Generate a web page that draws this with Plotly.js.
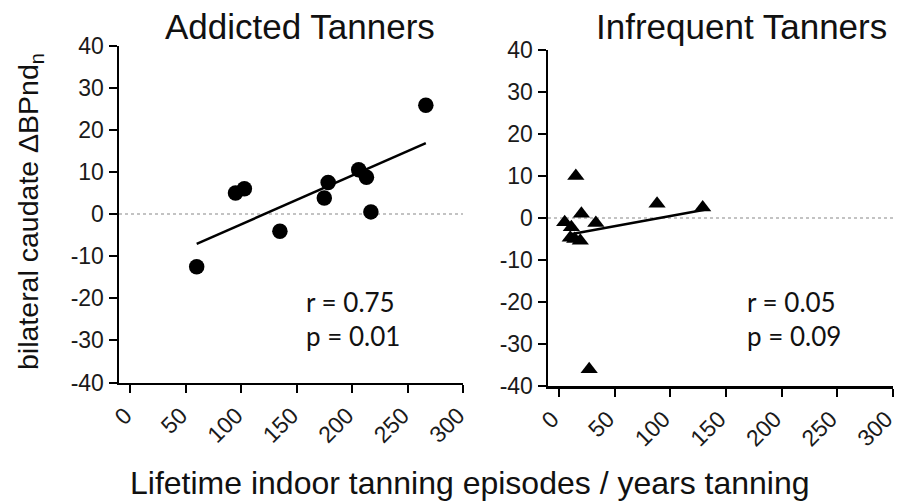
<!DOCTYPE html>
<html>
<head>
<meta charset="utf-8">
<script src="https://cdn.plot.ly/plotly-3.0.1.min.js"></script>
<style>html,body{margin:0;padding:0;background:#fff;}#chart{width:898px;height:502px;}</style>
</head>
<body>
<div id="chart"></div>
<script>
// Addicted tanners (circles)
const addictedX = [60, 95, 103, 135, 175, 178.5, 206, 213, 217, 266.5];
const addictedY = [-12.5, 5.0, 6.0, -4.1, 3.8, 7.5, 10.5, 8.7, 0.5, 25.8];
const addictedFitX = [60, 266.5];
const addictedFitY = [-7.1, 16.8];

// Infrequent tanners (triangles)
const infrequentX = [15, 20, 5, 33, 11, 10, 14, 19, 88, 129, 27];
const infrequentY = [10, 1, -1, -1.2, -2.2, -4.7, -5.0, -5.4, 3.4, 2.5, -36];
const infrequentFitX = [11.5, 132];
const infrequentFitY = [-3.8, 2.0];

const xTicks = [0, 50, 100, 150, 200, 250, 300];
const yTicks = [-40, -30, -20, -10, 0, 10, 20, 30, 40];

const panelTitles = ["Addicted Tanners", "Infrequent Tanners"];
const statsText = [["r = 0.75", "p = 0.01"], ["r = 0.05", "p = 0.09"]];
const xTitle = "Lifetime indoor tanning episodes / years tanning";
const yTitle = "bilateral caudate \u0394BPnd<sub>n</sub>";

const W = 898, H = 502;
const px = v => v / W;
const py = v => (H - v) / H;

const SANS = 'Liberation Sans, Arial, sans-serif';
const STAT = 'Lato, sans-serif';

const traces = [
  {x: addictedX, y: addictedY, type: 'scatter', mode: 'markers', xaxis: 'x', yaxis: 'y',
   marker: {symbol: 'circle', size: 15.5, color: '#000'}},
  {x: addictedFitX, y: addictedFitY, type: 'scatter', mode: 'lines', xaxis: 'x', yaxis: 'y',
   line: {color: '#000', width: 2.5}},
  {x: infrequentX, y: infrequentY, type: 'scatter', mode: 'markers', xaxis: 'x2', yaxis: 'y2',
   marker: {symbol: 'triangle-up', size: 15, color: '#000'}},
  {x: infrequentFitX, y: infrequentFitY, type: 'scatter', mode: 'lines', xaxis: 'x2', yaxis: 'y2',
   line: {color: '#000', width: 2.5}}
];

const tickFont = {family: SANS, size: 23, color: '#1a1a1a'};

const xaxisBase = {
  range: [-10, 300], tickvals: xTicks, ticktext: xTicks.map(String), tickangle: -45,
  showgrid: false, zeroline: false, showline: true, linecolor: '#000', linewidth: 2.5,
  ticks: 'outside', ticklen: 8, tickwidth: 2, tickcolor: '#000', tickfont: tickFont,
  ticklabeloverflow: 'allow', ticklabelshift: -5, fixedrange: true
};
const yaxisBase = {
  range: [-40, 40], tickvals: yTicks, ticktext: yTicks.map(String),
  showgrid: false, zeroline: false, showline: true, linecolor: '#000', linewidth: 2.5,
  ticks: 'outside', ticklen: 8, tickwidth: 2, tickcolor: '#000', tickfont: tickFont,
  ticklabeloverflow: 'allow', fixedrange: true
};

const statFont = {family: STAT, size: 26, color: '#111'};

const layout = {
  width: W, height: H,
  margin: {l: 0, r: 0, t: 0, b: 0},
  paper_bgcolor: '#fff', plot_bgcolor: '#fff',
  showlegend: false,
  font: {family: SANS},
  xaxis: Object.assign({}, xaxisBase, {domain: [px(119), px(463)], anchor: 'y'}),
  yaxis: Object.assign({}, yaxisBase, {domain: [py(382.5), py(45.5)], anchor: 'x'}),
  xaxis2: Object.assign({}, xaxisBase, {domain: [px(548), px(893)], anchor: 'y2', ticklabelshift: -7}),
  yaxis2: Object.assign({}, yaxisBase, {domain: [py(386), py(50)], anchor: 'x2'}),
  shapes: [
    {type: 'line', xref: 'x domain', yref: 'y', x0: 0, x1: 1, y0: 0, y1: 0,
     line: {color: '#888', width: 1.2, dash: 'dot'}, layer: 'below'},
    {type: 'line', xref: 'x2 domain', yref: 'y2', x0: 0, x1: 1, y0: 0, y1: 0,
     line: {color: '#888', width: 1.2, dash: 'dot'}, layer: 'below'}
  ],
  annotations: [
    {text: panelTitles[0], xref: 'paper', yref: 'paper', x: px(300), y: py(27), showarrow: false,
     xanchor: 'center', yanchor: 'middle', font: {family: SANS, size: 35, color: '#111'}},
    {text: panelTitles[1], xref: 'paper', yref: 'paper', x: px(741.5), y: py(27), showarrow: false,
     xanchor: 'center', yanchor: 'middle', font: {family: SANS, size: 35, color: '#111'}},
    {text: statsText[0][0], xref: 'paper', yref: 'paper', x: px(304), y: py(302), showarrow: false,
     xanchor: 'left', yanchor: 'middle', font: statFont},
    {text: statsText[0][1], xref: 'paper', yref: 'paper', x: px(304), y: py(336), showarrow: false,
     xanchor: 'left', yanchor: 'middle', font: statFont},
    {text: statsText[1][0], xref: 'paper', yref: 'paper', x: px(745), y: py(302), showarrow: false,
     xanchor: 'left', yanchor: 'middle', font: statFont},
    {text: statsText[1][1], xref: 'paper', yref: 'paper', x: px(745), y: py(336), showarrow: false,
     xanchor: 'left', yanchor: 'middle', font: statFont},
    {text: xTitle, xref: 'paper', yref: 'paper', x: px(470), y: py(483), showarrow: false,
     xanchor: 'center', yanchor: 'middle', font: {family: SANS, size: 32, color: '#111'}},
    {text: yTitle, xref: 'paper', yref: 'paper', x: px(30), y: py(212), showarrow: false, textangle: -90,
     xanchor: 'center', yanchor: 'middle', font: {family: SANS, size: 28.5, color: '#111'}}
  ]
};

Plotly.newPlot('chart', traces, layout, {displayModeBar: false, staticPlot: true});
</script>
</body>
</html>
